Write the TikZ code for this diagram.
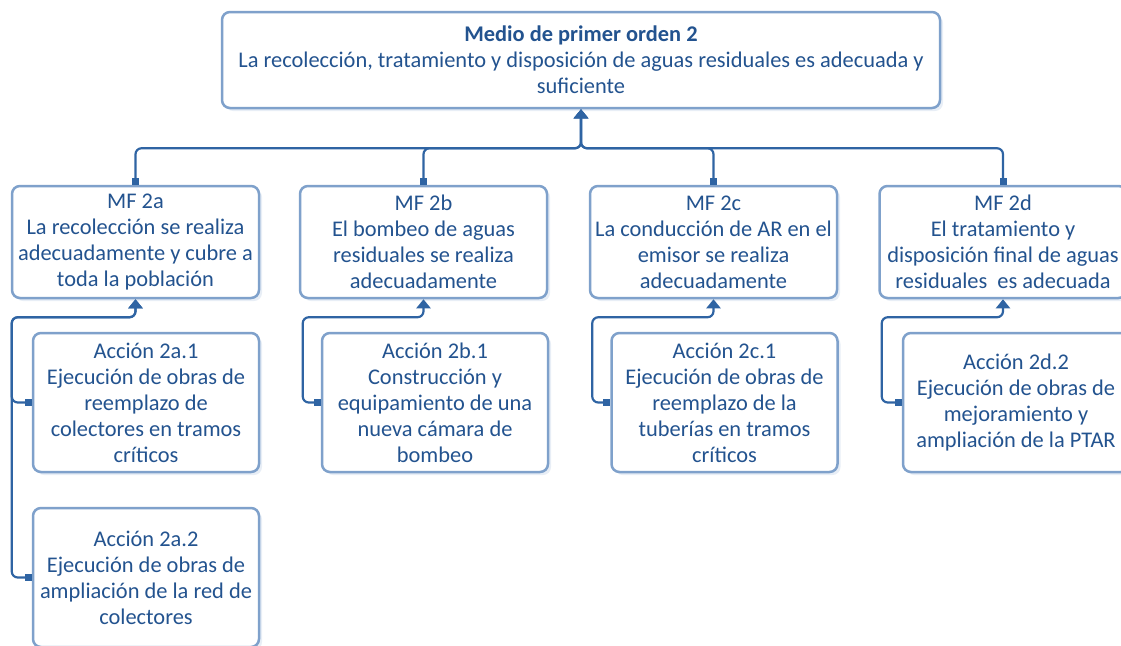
\documentclass[tikz,border=0pt]{standalone}
\usepackage{fontspec}
\setmainfont{Carlito}
\usetikzlibrary{arrows.meta,shadows,calc}
\definecolor{txtblue}{HTML}{23538F}
\definecolor{boxline}{HTML}{7FA1CB}
\definecolor{connblue}{HTML}{2F64A3}
\tikzset{
  box/.style={draw=boxline, line width=2.5pt, fill=white, rounded corners=8pt,
    align=center, text=txtblue, font=\fontsize{22.4}{26}\selectfont,
    inner sep=0pt,
    drop shadow={opacity=0.18, shadow xshift=3pt, shadow yshift=-3pt, fill=boxline}},
  mfbox/.style={box, minimum width=247pt, minimum height=112pt},
  actbox/.style={box, minimum width=226pt, minimum height=139pt},
  conn/.style={draw=connblue, line width=2.2pt, rounded corners=6pt,
    {Square[length=7pt,width=7pt]}-{Triangle[length=9pt,width=14pt]}}
}
\begin{document}
\begin{tikzpicture}[x=1pt,y=-1pt]
\useasboundingbox (0,0) rectangle (1121,645);
\node[box, minimum width=718pt, minimum height=96pt] (top) at (581,60)
  {\textbf{Medio de primer orden 2}\\La recolección, tratamiento y disposición de aguas residuales es adecuada y\\suficiente};
\node[mfbox] (mfa) at (135.5,242) {MF 2a\\La recolección se realiza\\adecuadamente y cubre a\\toda la población};
\node[mfbox] (mfb) at (423.5,242) {MF 2b\\El bombeo de aguas\\residuales se realiza\\adecuadamente};
\node[mfbox] (mfc) at (713.5,242) {MF 2c\\La conducción de AR en el\\emisor se realiza\\adecuadamente};
\node[mfbox] (mfd) at (1003,242) {MF 2d\\El tratamiento y\\disposición final de aguas\\residuales\ \ es adecuada};
\node[actbox] (a1) at (146,402.5) {Acción 2a.1\\Ejecución de obras de\\reemplazo de\\colectores en tramos\\críticos};
\node[actbox] (a2) at (146,577.5) {Acción 2a.2\\Ejecución de obras de\\ampliación de la red de\\colectores};
\node[actbox] (b1) at (435,402.5) {Acción 2b.1\\Construcción y\\equipamiento de una\\nueva cámara de\\bombeo};
\node[actbox] (c1) at (724.5,402.5) {Acción 2c.1\\Ejecución de obras de\\reemplazo de la\\tuberías en tramos\\críticos};
\node[actbox] (d2) at (1016,402.5) {Acción 2d.2\\Ejecución de obras de\\mejoramiento y\\ampliación de la PTAR};
% level 1 connectors
\foreach \n in {mfa,mfb,mfc,mfd}{
  \draw[conn] (\n.north) |- ($(top.south)+(0,39)$) -- (top.south);
}
% action connectors
\draw[conn] (a1.west) -- ++(-20,0) |- ($(mfa.south)+(0,18)$) -- (mfa.south);
\draw[conn] (a2.west) -- ++(-20,0) |- ($(mfa.south)+(0,18)$) -- (mfa.south);
\draw[conn] (b1.west) -- ++(-18,0) |- ($(mfb.south)+(0,18)$) -- (mfb.south);
\draw[conn] (c1.west) -- ++(-18,0) |- ($(mfc.south)+(0,18)$) -- (mfc.south);
\draw[conn] (d2.west) -- ++(-20,0) |- ($(mfd.south)+(0,18)$) -- (mfd.south);
\end{tikzpicture}
\end{document}
